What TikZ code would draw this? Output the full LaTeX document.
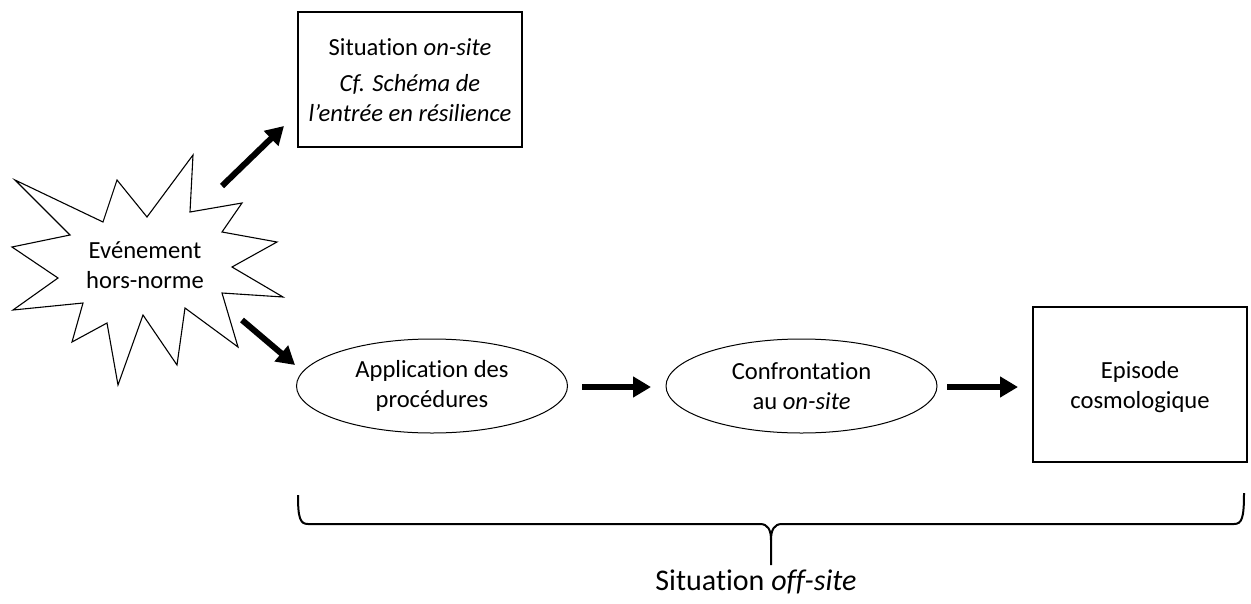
\documentclass[tikz,border=0pt]{standalone}
\usepackage{fontspec}
\setmainfont{Carlito}[Ligatures=NoCommon]
\usetikzlibrary{shapes.geometric,arrows.meta}
\begin{document}
\begin{tikzpicture}[x=1pt,y=-1pt,
  txt/.style={font=\fontsize{24.6}{30}\selectfont, align=center, inner sep=0pt},
  boxnode/.style={draw, line width=2pt, inner sep=0pt},
  ellnode/.style={draw, ellipse, line width=1pt, inner sep=0pt, minimum width=271pt, minimum height=94pt, font=\fontsize{24.6}{30}\selectfont, align=center},
  fat/.style={line width=6pt, -{Triangle[length=18pt,width=20pt]}},
  starline/.style={draw, line width=1.1pt, line join=miter}]
\useasboundingbox (0,0) rectangle (1251,603);

% star
\draw[starline] (15,180) -- (103,222) -- (117,180) -- (147,217) -- (193,155) -- (190,212) -- (242,203) -- (222,232) -- (277,242) -- (232,267) -- (283,297) -- (222,293) -- (238,347) -- (185,308) -- (177,365) -- (143,315) -- (118,385) -- (107,323) -- (72,342) -- (83,303) -- (13,310) -- (58,278) -- (12,247) -- (70,235) -- cycle;
\node[txt] (ev) at (145,265) {Evénement\\hors-norme};

% top box
\node[boxnode, minimum width=224pt, minimum height=135pt] (onsite) at (410,79.5) {};
\node[txt] (onsitetxt) at (410,80) {Situation \textit{on-site}\\[6pt]\textit{Cf. Schéma de}\\\textit{l’entrée en résilience}};

% ellipses
\node[ellnode] (app) at (432,386) {Application des\\proc\'edures};
\node[ellnode] (conf) at (801.5,386) {Confrontation\\au \textit{on-site}};

% right box
\node[boxnode, minimum width=214pt, minimum height=155pt] (epi) at (1140,384.5) {};
\node[txt] (epitxt) at (1140,387) {Episode\\cosmologique};

% arrows
\coordinate (a1s) at (222,186);
\coordinate (a1e) at (284,126);
\coordinate (a2s) at (242,320);
\coordinate (a2e) at (295,365);
\coordinate (a3s) at (582,387);
\coordinate (a3e) at (651,387);
\coordinate (a4s) at (947,387);
\coordinate (a4e) at (1018,387);
\draw[fat] (a1s) -- (a1e);
\draw[fat] (a2s) -- (a2e);
\draw[fat] (a3s) -- (a3e);
\draw[fat] (a4s) -- (a4e);

% brace
\coordinate (bl) at (298,495);
\coordinate (br) at (1244,493);
\coordinate (bm) at (771,540);
\coordinate (bt) at (771,565);
\draw[line width=2pt] (bl) .. controls (298,518) and (300,524) .. (308,524) -- (760,524) .. controls (768,524) and (771,530) .. (bm) -- (bt);
\draw[line width=2pt] (bm) .. controls (771,530) and (774,524) .. (782,524) -- (1234,524) .. controls (1242,524) and (1244,518) .. (br);
\node[inner sep=0pt, font=\fontsize{30}{36}\selectfont] (offsite) at (756,582) {Situation \textit{off-site}};
\end{tikzpicture}
\end{document}
